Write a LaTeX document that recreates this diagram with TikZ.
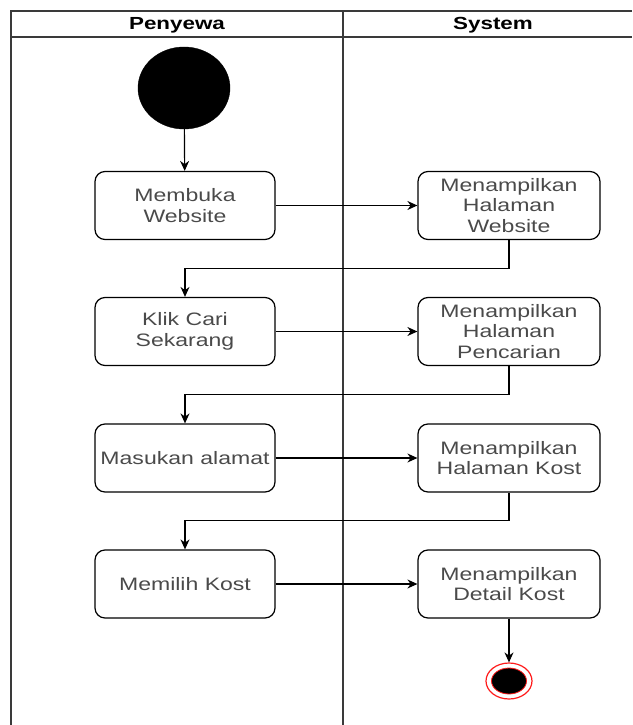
\documentclass[tikz,border=0pt]{standalone}
\usepackage{fontspec}
\setmainfont{Liberation Sans}[FakeStretch=1.28]
\usetikzlibrary{arrows.meta,shapes.geometric}
\definecolor{lanegray}{HTML}{3A3A3A}
\definecolor{txtgray}{HTML}{4A4A4A}
\definecolor{endred}{HTML}{FF1A1A}
\begin{document}
\begin{tikzpicture}[x=1pt,y=-1pt,
  lane/.style={draw=lanegray,line width=1.2pt},
  actbox/.style={draw=black,line width=1.2pt,rounded corners=10pt,
    minimum width=180pt,minimum height=68pt,align=center,text=txtgray,
    font=\fontsize{18}{20.5}\selectfont,inner sep=2pt},
  flow/.style={draw=black,line width=1.2pt,-{Stealth[length=10pt,width=9pt]}},
  head/.style={font=\bfseries\fontsize{17.5}{20}\selectfont,text=black}]
\useasboundingbox (0,0) rectangle (632,725);

% swimlane frame
\draw[lane] (632,11) -- (11,11) -- (11,725);
\draw[lane] (11,37) -- (632,37);
\draw[lane] (343,11) -- (343,725);
\node[head] (hp) at (177,25) {Penyewa};
\node[head] (hs) at (493,25) {System};

% initial state
\node[draw=black,fill=black,ellipse,minimum width=92pt,minimum height=82pt,inner sep=0pt] (start) at (184,88) {};

% actions of the tenant
\node[actbox] (a1) at (185,205.5) {Membuka\\Website};
\node[actbox] (a2) at (185,331.5) {Klik Cari\\Sekarang};
\node[actbox] (a3) at (185,458) {Masukan alamat};
\node[actbox] (a4) at (185,584) {Memilih Kost};

% actions of the system
\node[actbox,minimum width=182pt] (s1) at (509,205.5) {Menampilkan\\Halaman\\Website};
\node[actbox,minimum width=182pt] (s2) at (509,331.5) {Menampilkan\\Halaman\\Pencarian};
\node[actbox,minimum width=182pt] (s3) at (509,458) {Menampilkan\\Halaman Kost};
\node[actbox,minimum width=182pt] (s4) at (509,584) {Menampilkan\\Detail Kost};

% final state
\node[draw=endred,line width=1.2pt,ellipse,minimum width=46pt,minimum height=36pt,inner sep=0pt] (end) at (509,681) {};
\node[draw=endred,line width=0.8pt,fill=black,ellipse,minimum width=35pt,minimum height=26pt,inner sep=0pt] (endin) at (509,681) {};

% control flow
\draw[flow] (start) -- (a1);
\draw[flow] (a1) -- (s1);
\draw[flow] (a2) -- (s2);
\draw[flow] (a3) -- (s3);
\draw[flow] (a4) -- (s4);
\draw[flow] (s1.south) -- ++(0,28) -| (a2.north);
\draw[flow] (s2.south) -- ++(0,28) -| (a3.north);
\draw[flow] (s3.south) -- ++(0,28) -| (a4.north);
\draw[flow] (s4.south) -- (end.north);
\end{tikzpicture}
\end{document}
